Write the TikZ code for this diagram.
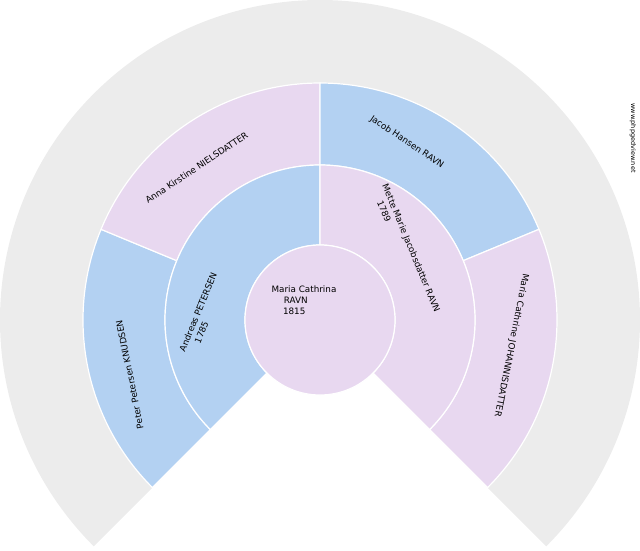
\documentclass[tikz,border=0pt]{standalone}
\usepackage{fontspec}
\setmainfont{DejaVu Sans}
\usepackage{tikz}

\definecolor{manblue}{HTML}{B3D1F2}
\definecolor{womanpink}{HTML}{E8D8F0}
\definecolor{emptygrey}{HTML}{ECECEC}

\tikzset{
	sector/.style={draw=white,line width=1.2pt},
	person/.style={font=\fontsize{8.8}{11}\selectfont,inner sep=0pt},
}

\begin{document}
\begin{tikzpicture}[x=1pt,y=1pt]
	
	\useasboundingbox (-320,-230) rectangle (320,320);
	
	% outer empty ring
	\fill[emptygrey] (225:237) arc[start angle=225,end angle=-45,radius=237] -- (-45:320) arc[start angle=-45,end angle=225,radius=320] -- cycle;
	
	% grandparents
	\foreach \a/\b/\c in {225/157.5/manblue,157.5/90/womanpink,90/22.5/manblue,22.5/-45/womanpink}
		\draw[sector,fill=\c] (\a:155) arc[start angle=\a,end angle=\b,radius=155] -- (\b:237) arc[start angle=\b,end angle=\a,radius=237] -- cycle;
	
	% parents
	\draw[sector,fill=manblue] (225:75) arc[start angle=225,end angle=90,radius=75] -- (90:155) arc[start angle=90,end angle=225,radius=155] -- cycle;
	\draw[sector,fill=womanpink] (90:75) arc[start angle=90,end angle=-45,radius=75] -- (-45:155) arc[start angle=-45,end angle=90,radius=155] -- cycle;
	
	% root
	\draw[sector,fill=womanpink] (0,0) circle (75);
	
	\node[person,align=left] (root) at (-16,20) {Maria Cathrina\\\hspace{1.4em}RAVN\\\hspace{1.3em}1815};
	
	\node[person,align=left,rotate=67.5] (father) at (177:117) {Andreas PETERSEN\\\hspace{1.5em}1785};
	\node[person,align=left,rotate=-67.5] (mother) at (39:111) {Mette Marie Jacobsdatter RAVN\\\hspace{1.5em}1789};
	
	\node[person,rotate=101.25] (ff) at (196:198) {Peter Petersen KNUDSEN};
	\node[person,rotate=33.75] (fm) at (129:196) {Anna Kirstine NIELSDATTER};
	\node[person,rotate=-33.75] (mf) at (64:198) {Jacob Hansen RAVN};
	\node[person,rotate=-101.25] (mm) at (-7.5:193) {Maria Cathrine JOHANNISDATTER};
	
	\node[font=\fontsize{6.5}{7}\selectfont,rotate=-90,inner sep=0pt] (site) at (313,182) {www.phpgedview.net};

\end{tikzpicture}
\end{document}
